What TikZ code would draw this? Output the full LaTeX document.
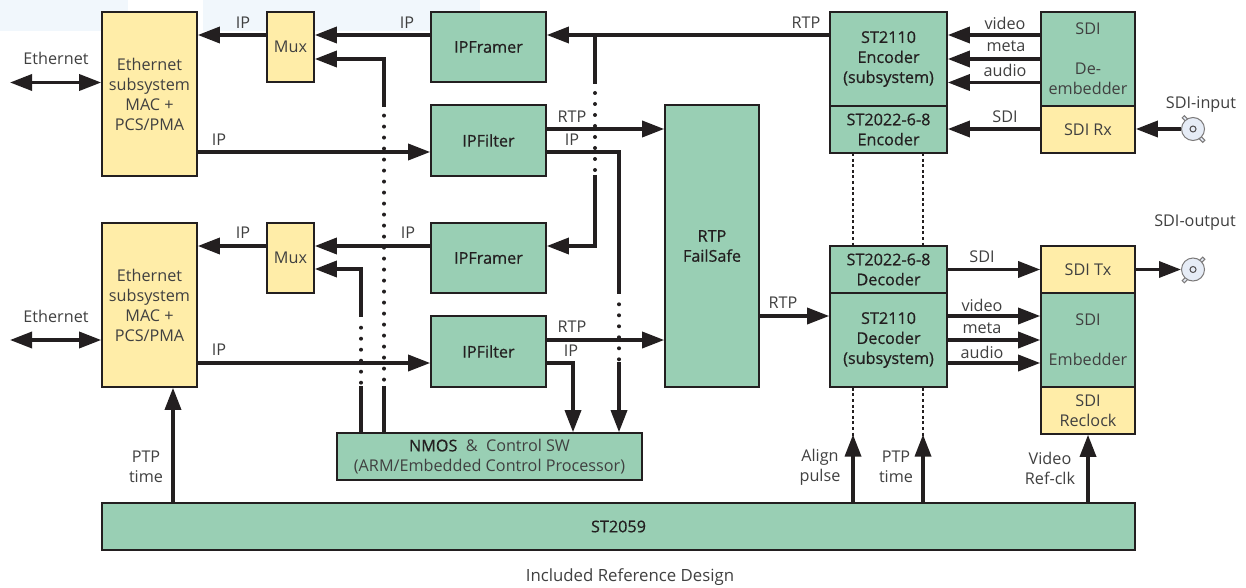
\documentclass[tikz,border=0pt]{standalone}
\usepackage{fontspec}
\setmainfont{Open Sans}
\newfontfamily\semi[FakeBold=0.6]{Open Sans}
\usetikzlibrary{arrows.meta}
\definecolor{grn}{HTML}{99CFB4}
\definecolor{yel}{HTML}{FFEDA8}
\definecolor{ink}{HTML}{231F20}
\definecolor{txt}{HTML}{404040}
\definecolor{pale}{HTML}{F1F7FC}
\definecolor{bncfill}{HTML}{E6ECF6}
\tikzset{
 blk/.style={draw=ink,line width=1.6pt,inner sep=0pt,align=center,text=txt,font=\fontsize{16.2}{20}\selectfont},
 heavy/.style={font=\fontsize{16.2}{20}\selectfont\semi,text=ink},
 lab/.style={text=txt,font=\fontsize{16.2}{20}\selectfont,align=center,inner sep=0pt},
 wire/.style={draw=ink,line width=3.4pt},
 arr/.style={wire,-{Triangle[length=22pt,width=16pt]}},
 darr/.style={wire,{Triangle[length=22pt,width=16pt]}-{Triangle[length=22pt,width=16pt]}},
 dots/.style={draw=ink,line width=4pt,line cap=round,dash pattern=on 0pt off 11pt},
 fine/.style={draw=ink,line width=1.8pt,dash pattern=on 3pt off 2.6pt},
 bnc/.style={circle,draw=ink!60,line width=1pt,fill=bncfill,minimum size=23pt,inner sep=0pt},
 lug/.style={draw=ink!60,line width=1pt,fill=bncfill,minimum width=5pt,minimum height=3pt,inner sep=0pt}
}
\newcommand{\bx}[8]{\node[blk,fill=#2,minimum width=#5pt-#3pt,minimum height=#6pt-#4pt,#7] (#1) at ({(#3+#5)/2},{(#4+#6)/2}) {#8};}
\newcommand{\lb}[4]{\node[lab] (#1) at (#2,#3) {#4};}
\begin{document}
\begin{tikzpicture}[x=1pt,y=-1pt]
\useasboundingbox (0,0) rectangle (1246,588);
\fill[white] (0,0) rectangle (1246,588);
\fill[pale] (0,0) rectangle (128,31);
\fill[pale] (203,0) rectangle (480,31);
% rows
\foreach \n/\y in {ra/35,rb/59,rc/82.5,rd/129,re/152,rf/246,rg/269,rh/316,ri/340,rj/363,rk/269.5}{\coordinate (\n) at (0,\y);}
% blocks
\bx{eth1}{yel}{102}{12}{197}{176}{}{Ethernet\\subsystem\\MAC +\\PCS/PMA}
\bx{eth2}{yel}{102}{223}{197}{387}{}{Ethernet\\subsystem\\MAC +\\PCS/PMA}
\bx{mux1}{yel}{267}{12}{314}{82}{}{Mux}
\bx{mux2}{yel}{267}{223}{314}{293}{}{Mux}
\bx{fr1}{grn}{431}{12}{546}{82}{heavy}{IPFramer}
\bx{fil1}{grn}{431}{105}{546}{176}{heavy}{IPFilter}
\bx{fr2}{grn}{431}{223}{546}{293}{heavy}{IPFramer}
\bx{fil2}{grn}{431}{316}{546}{387}{heavy}{IPFilter}
\bx{safe}{grn}{665}{105}{759}{387}{heavy}{RTP\\FailSafe}
\bx{nmos}{grn}{337}{433}{642}{480}{}{{\semi\color{ink}NMOS}\ \ \&\ \ Control SW\\(ARM/Embedded Control Processor)}
\bx{st59}{grn}{102}{503}{1135}{550}{heavy}{ST2059}
\bx{enc}{grn}{830}{12}{947}{106}{heavy}{ST2110\\Encoder\\(subsystem)}
\bx{enc2}{grn}{830}{106}{947}{153}{heavy}{ST2022-6-8\\Encoder}
\bx{deemb}{grn}{1041}{12}{1135}{106}{}{SDI\\ \\De-\\embedder}
\bx{rx}{yel}{1041}{106}{1135}{153}{}{SDI Rx}
\bx{dec2}{grn}{830}{246}{947}{293}{heavy}{ST2022-6-8\\Decoder}
\bx{dec}{grn}{830}{293}{947}{387}{heavy}{ST2110\\Decoder\\(subsystem)}
\bx{tx}{yel}{1041}{246}{1135}{293}{}{SDI Tx}
\bx{emb}{grn}{1041}{293}{1135}{387}{}{SDI\\ \\Embedder}
\bx{reclk}{yel}{1041}{387}{1135}{434}{}{SDI\\Reclock}
% connectors BNC
\node[lug,rotate=-45] (l1) at (1185,118.5) {};
\node[lug,rotate=-45] (l2) at (1202,139.5) {};
\node[lug,rotate=45] (l3) at (1202,260) {};
\node[lug,rotate=45] (l4) at (1185,280) {};
\node[bnc] (bncin) at (1193,129) {};
\node[bnc] (bncout) at (1193,269.5) {};
\node[circle,draw=ink!80,line width=1pt,minimum size=6pt,inner sep=0pt] (c1) at (bncin) {};
\node[circle,draw=ink!80,line width=1pt,minimum size=6pt,inner sep=0pt] (c2) at (bncout) {};
% free ends
\coordinate (ethL1) at (10,82.5);
\coordinate (ethL2) at (10,340);
\coordinate (a1) at (384,107);
\coordinate (a2) at (384,115.6);
\coordinate (a3) at (384,381);
\coordinate (a4) at (384,386);
\coordinate (b1) at (361,317);
\coordinate (b2) at (361,327.7);
\coordinate (b3) at (361,384);
\coordinate (b4) at (361,386);
\coordinate (d0) at (595,35);
\coordinate (d1) at (595,84);
\coordinate (d2) at (595,93);
\coordinate (d3) at (595,171);
\coordinate (d4) at (595,175);
\coordinate (e1) at (619,152);
\coordinate (e2) at (619,294);
\coordinate (e3) at (619,304.3);
\coordinate (e4) at (619,360.5);
\coordinate (e5) at (619,362);
\coordinate (g1) at (573,363);
\coordinate (x1) at (853,153);
\coordinate (x2) at (923,153);
% wires
\draw[darr] (ethL1) -- (eth1.west |- ethL1);
\draw[darr] (ethL2) -- (eth2.west |- ethL2);
\draw[arr] (mux1.west |- ra) -- (eth1.east |- ra);
\draw[arr] (mux2.west |- rf) -- (eth2.east |- rf);
\draw[arr] (fr1.west |- ra) -- (mux1.east |- ra);
\draw[arr] (fr2.west |- rf) -- (mux2.east |- rf);
\draw[arr] (enc.west |- ra) -- (fr1.east |- ra);
\draw[arr] (eth1.east |- re) -- (fil1.west |- re);
\draw[arr] (eth2.east |- rj) -- (fil2.west |- rj);
\draw[arr] (fil1.east |- rd) -- (safe.west |- rd);
\draw[arr] (fil2.east |- ri) -- (safe.west |- ri);
\draw[arr] (safe.east |- rh) -- (dec.west |- rh);
% control lines with dotted crossings
\draw[arr] (a1) |- (mux1.east |- rb);
\draw[dots] (a2) -- (a3);
\draw[wire] (a4) -- (a4 |- nmos.north);
\draw[arr] (b1) |- (mux2.east |- rg);
\draw[dots] (b2) -- (b3);
\draw[wire] (b4) -- (b4 |- nmos.north);
\draw[wire] (d0) -- (d1);
\draw[dots] (d2) -- (d3);
\draw[arr] (d4) |- (fr2.east |- rf);
\draw[wire] (fil1.east |- re) -| (e2);
\draw[dots] (e3) -- (e4);
\draw[arr] (e5) -- (e5 |- nmos.north);
\draw[arr] (fil2.east |- rj) -| (g1 |- nmos.north);
% encoder / decoder side
\draw[arr] (deemb.west |- ra) -- (enc.east |- ra);
\draw[arr] (deemb.west |- rb) -- (enc.east |- rb);
\draw[arr] (deemb.west |- rc) -- (enc.east |- rc);
\draw[arr] (rx.west |- rd) -- (enc2.east |- rd);
\draw[arr] (bncin.west) -- (rx.east |- bncin);
\draw[arr] (dec2.east |- rk) -- (tx.west |- rk);
\draw[arr] (tx.east |- rk) -- (bncout.west);
\draw[arr] (dec.east |- rh) -- (emb.west |- rh);
\draw[arr] (dec.east |- ri) -- (emb.west |- ri);
\draw[arr] (dec.east |- rj) -- (emb.west |- rj);
% dotted verticals
\draw[fine] (x1) -- (x1 |- dec2.north);
\draw[fine] (x2) -- (x2 |- dec2.north);
\draw[fine] (x1 |- dec.south) -- (x1 |- 0,436);
\draw[fine] (x2 |- dec.south) -- (x2 |- 0,436);
% up arrows
\coordinate (u1) at (173,0);
\coordinate (u2) at (1088,0);
\draw[arr] (u1 |- st59.north) -- (u1 |- eth2.south);
\draw[arr] (x1 |- st59.north) -- (x1 |- 0,434.5);
\draw[arr] (x2 |- st59.north) -- (x2 |- 0,434.5);
\draw[arr] (u2 |- st59.north) -- (u2 |- reclk.south);
% labels
\lb{t1}{56}{58.5}{Ethernet}
\lb{t2}{56}{316}{Ethernet}
\lb{t3}{243}{23}{IP}
\lb{t4}{407}{23}{IP}
\lb{t5}{243}{233}{IP}
\lb{t6}{408}{233}{IP}
\lb{t7}{219}{140}{IP}
\lb{t8}{219}{350}{IP}
\lb{t9}{806}{23}{RTP}
\lb{t10}{1005}{23}{video}
\lb{t11}{1006}{46}{meta}
\lb{t12}{1005}{70}{audio}
\lb{t13}{1005}{117}{SDI}
\lb{t14}{1201}{105}{SDI-input}
\lb{t15}{1195}{222.5}{SDI-output}
\lb{t16}{572}{117}{RTP}
\lb{t17}{572}{140}{IP}
\lb{t18}{572}{327}{RTP}
\lb{t19}{571}{351}{IP}
\lb{t20}{783}{303}{RTP}
\lb{t21}{982}{257}{SDI}
\lb{t22}{982}{305}{video}
\lb{t23}{982}{328}{meta}
\lb{t24}{982}{352}{audio}
\lb{t25}{146}{467}{PTP\\time}
\lb{t26}{820}{467}{Align\\pulse}
\lb{t27}{896}{467}{PTP\\time}
\lb{t28}{1050}{468}{Video\\Ref-clk}
\node[lab,font=\fontsize{16.8}{20}\selectfont] (t29) at (630,577) {Included Reference Design};
\end{tikzpicture}
\end{document}
